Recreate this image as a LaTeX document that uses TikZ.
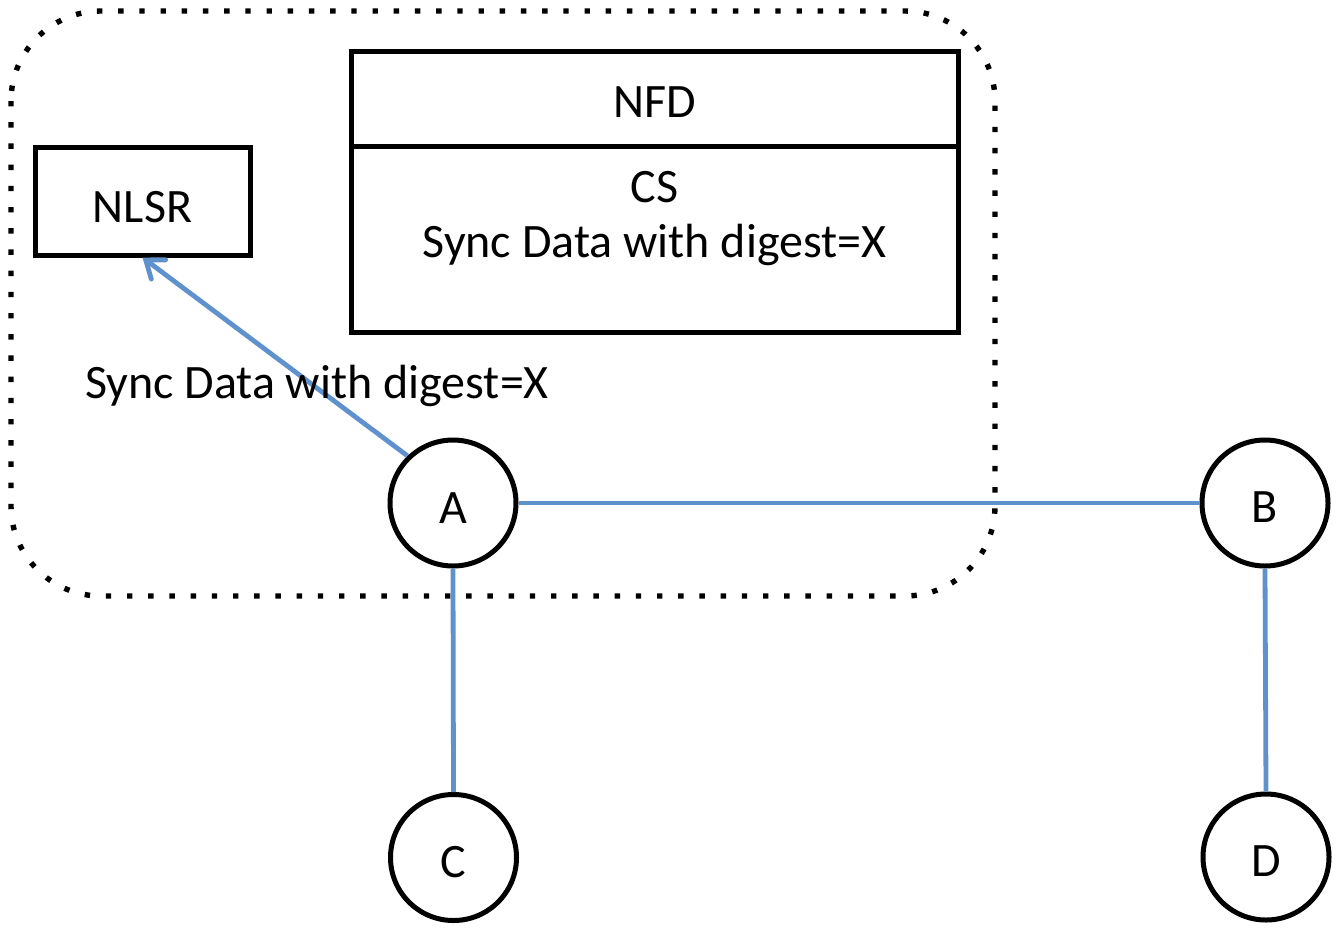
\documentclass[tikz,border=0pt]{standalone}
\usepackage{fontspec}
\setmainfont{Carlito}
\usetikzlibrary{arrows.meta}
\definecolor{linkblue}{RGB}{95,145,204}
\tikzset{
  dotborder/.style={line width=5.4pt, dash pattern=on 5.4pt off 15.8pt, rounded corners=90pt},
  boxstyle/.style={draw, line width=5pt, rectangle, inner sep=0pt},
  nodecirc/.style={draw, line width=5pt, circle, minimum size=126pt, inner sep=0pt},
  link/.style={draw=linkblue, line width=4.8pt},
  txt/.style={font=\fontsize{48}{57}\selectfont, inner sep=0pt, anchor=base}
}
\begin{document}
\begin{tikzpicture}[x=1pt,y=-1pt]
\useasboundingbox (0,0) rectangle (1336,930);
% dotted router boundary
\draw[dotborder] (11,11) rectangle (995,596);
% NLSR box
\node[boxstyle, minimum width=215pt, minimum height=108pt] (nlsr) at (142.5,201) {};
\node[txt] (nlsrtxt) at (142.5,222) {NLSR};
% NFD box
\node[boxstyle, minimum width=607pt, minimum height=281pt] (nfd) at (654.5,191.5) {};
\coordinate (divl) at (351,146);
\coordinate (divr) at (958,146);
\draw[line width=5pt] (divl) -- (divr);
\node[txt] (nfdtxt) at (654.5,117) {NFD};
\node[txt] (cstxt) at (654.5,202) {CS};
\node[txt] (cssync) at (654.5,257) {Sync Data with digest=X};
% nodes
\node[nodecirc] (A) at (453,503) {};
\node[nodecirc] (B) at (1265,503) {};
\node[nodecirc] (C) at (453.5,857.5) {};
\node[nodecirc] (D) at (1266,857) {};
\node[txt] (Atxt) at (453,523) {A};
\node[txt] (Btxt) at (1265,522) {B};
\node[txt] (Ctxt) at (453.5,877) {C};
\node[txt] (Dtxt) at (1266,876) {D};
% links
\draw[link] (A.east) -- (B.west);
\draw[link] (A.south) -- (C.north);
\draw[link] (B.south) -- (D.north);
\draw[link, -{Straight Barb[length=16pt,width=24pt,line cap=round]}] (A.134) -- (nlsr.south);
% label
\node[txt] (lbl) at (317,398) {Sync Data with digest=X};
\end{tikzpicture}
\end{document}
